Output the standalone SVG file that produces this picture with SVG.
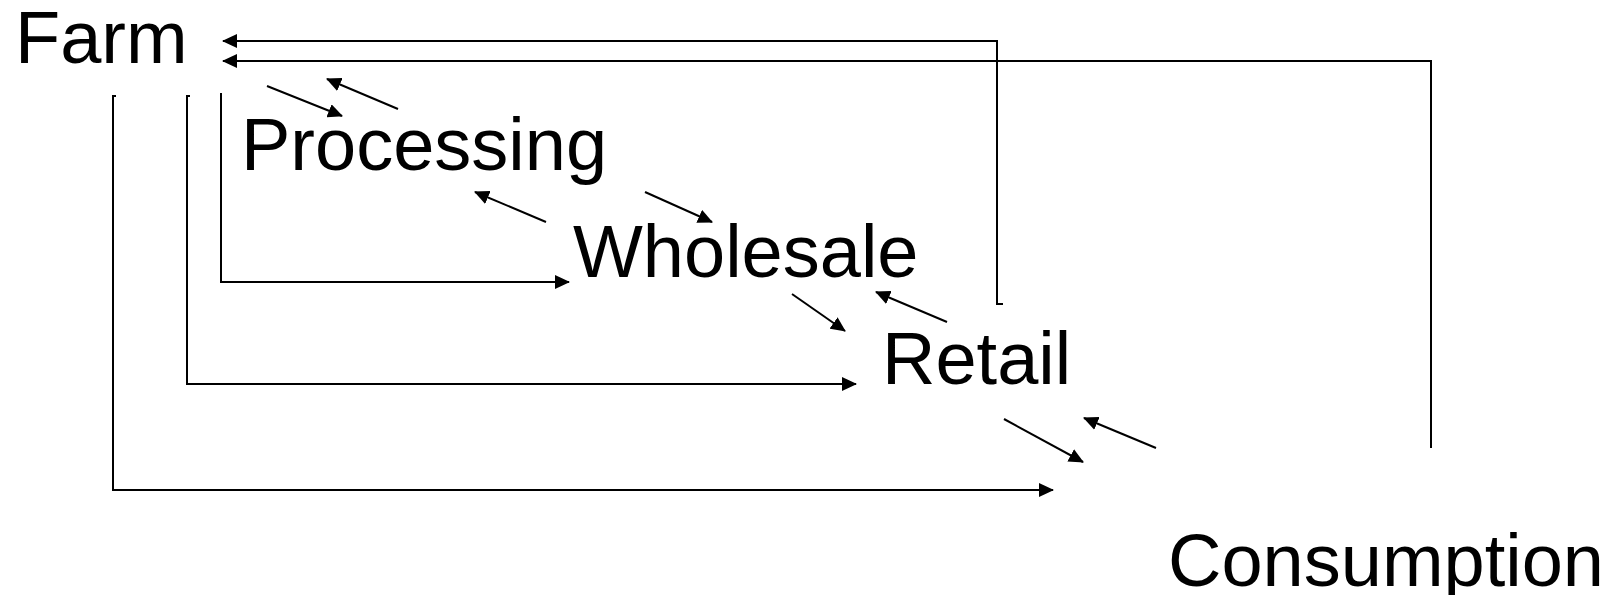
<svg xmlns="http://www.w3.org/2000/svg" width="1608" height="595" viewBox="0 0 1608 595">
  <style>
    .label { font-family: "Liberation Sans", Arial, sans-serif; font-size: 74px; fill: #000; }
    .wire { fill: none; stroke: #000; stroke-width: 2; }
    .arrow { marker-end: url(#head); }
  </style>
  <defs>
    <marker id="head" viewBox="0 0 15 14" refX="14" refY="7" markerWidth="15" markerHeight="14" markerUnits="userSpaceOnUse" orient="auto">
      <path d="M0,0 L15,7 L0,14 z" fill="#000"/>
    </marker>
  </defs>
  <rect width="1608" height="595" fill="#fff"/>

  <!-- stages of the supply chain -->
  <g id="farm"><text class="label" x="15" y="63">Farm</text></g>
  <g id="processing"><text class="label" x="241" y="170">Processing</text></g>
  <g id="wholesale"><text class="label" x="573" y="277">Wholesale</text></g>
  <g id="retail"><text class="label" x="882" y="384">Retail</text></g>
  <g id="consumption"><text class="label" x="1168" y="586">Consumption</text></g>

  <g id="connectors">
    <!-- feedback back to Farm -->
    <path class="wire arrow" d="M1003,304 H997 V41 H223"/>
    <path class="wire arrow" d="M1431,448 V61 H223"/>
    <!-- direct routes from Farm -->
    <path class="wire arrow" d="M221,93 V282 H569"/>
    <path class="wire arrow" d="M190,96 H187 V384 H856"/>
    <path class="wire arrow" d="M116,96 H113 V490 H1053"/>
    <!-- links between neighbouring stages -->
    <line class="wire arrow" x1="267" y1="86" x2="342" y2="116"/>
    <line class="wire arrow" x1="398" y1="109" x2="327" y2="79"/>
    <line class="wire arrow" x1="546" y1="222" x2="475" y2="192"/>
    <line class="wire arrow" x1="645" y1="192" x2="712" y2="222"/>
    <line class="wire arrow" x1="792" y1="294" x2="845" y2="331"/>
    <line class="wire arrow" x1="947" y1="322" x2="876" y2="292"/>
    <line class="wire arrow" x1="1004" y1="419" x2="1083" y2="462"/>
    <line class="wire arrow" x1="1156" y1="448" x2="1084" y2="418"/>
  </g>
</svg>
